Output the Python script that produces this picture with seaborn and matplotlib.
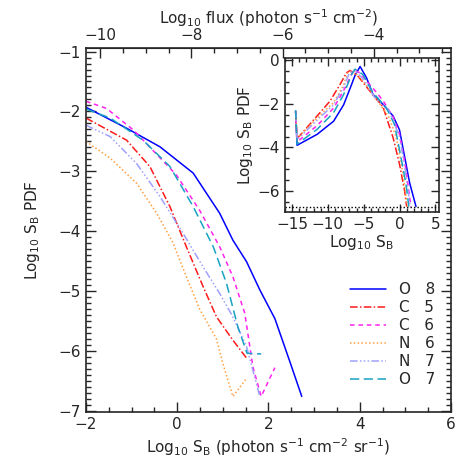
import matplotlib
matplotlib.use('Agg')
import matplotlib.pyplot as plt
import seaborn as sns
from matplotlib.ticker import MultipleLocator, FixedLocator

sns.set_style('ticks')
plt.rcParams['font.family'] = ['DejaVu Sans']
plt.rcParams['mathtext.fontset'] = 'dejavusans'

# ions (legend order)
ions = ['O   8', 'C   5', 'C   6', 'N   6', 'N   7', 'O   7']
colors = ['#0000ff', '#ff1a1a', '#ff22ee', '#ffa040', '#a0a0ff', '#18a2c4']
styles = ['-', (0, (5, 1.5, 1, 1.5)), (0, (3, 2.5)), (0, (1, 1.5)),
          (0, (5, 1.5, 1, 1.5, 1, 1.5, 1, 1.5)), (0, (6, 3))]

# main panel: log10 SB vs log10 PDF
sb_o8 = [-2.0, -1.11, -0.38, 0.35, 0.93, 1.22, 1.52, 1.81, 2.14, 2.46, 2.73]
pdf_o8 = [-1.93, -2.28, -2.59, -3.03, -3.70, -4.15, -4.51, -4.98, -5.46, -6.16, -6.76]
sb_c5 = [-2.0, -1.11, -0.60, -0.16, 0.20, 0.57, 0.86, 1.22, 1.52]
pdf_c5 = [-2.11, -2.48, -2.92, -3.59, -4.26, -4.93, -5.43, -5.82, -6.12]
sb_c6 = [-2.0, -1.55, -0.96, -0.02, 0.49, 0.93, 1.22, 1.48, 1.66, 1.84, 2.14]
pdf_c6 = [-1.83, -1.95, -2.31, -3.06, -3.65, -4.26, -4.76, -5.37, -6.27, -6.76, -6.28]
sb_n6 = [-2.0, -1.47, -0.89, -0.45, -0.09, 0.20, 0.49, 0.86, 1.0, 1.22, 1.52]
pdf_n6 = [-2.50, -2.78, -3.20, -3.70, -4.20, -4.76, -5.30, -5.80, -6.21, -6.76, -6.46]
sb_n7 = [-2.0, -1.47, -0.89, -0.38, 0.13, 0.57, 0.93, 1.22, 1.52, 1.81]
pdf_n7 = [-2.23, -2.42, -2.87, -3.42, -4.04, -4.60, -5.04, -5.43, -5.93, -6.76]
sb_o7 = [-2.0, -1.47, -0.75, -0.16, 0.35, 0.79, 1.08, 1.33, 1.53, 1.84]
pdf_o7 = [-1.96, -2.11, -2.48, -2.92, -3.59, -4.26, -4.87, -5.60, -6.04, -6.05]

# inset: full range
in_sb_o8 = [-14.5, -14.3, -11.5, -9.2, -7.8, -6.9, -6.2, -5.5, -4.6, -3.7, -2.3, -0.9, 0.0, 0.7, 1.4, 2.3]
in_pdf_o8 = [-2.35, -3.9, -3.4, -2.8, -2.05, -1.3, -0.7, -0.3, -0.82, -1.58, -2.03, -2.56, -3.2, -4.4, -5.6, -6.7]
in_sb_c5 = [-14.5, -14.3, -11.5, -9.7, -8.3, -7.4, -6.9, -5.8, -3.7, -2.3, -0.9, 0.0, 0.7, 1.0]
in_pdf_c5 = [-2.35, -3.6, -2.56, -1.88, -1.12, -0.59, -0.48, -0.74, -1.6, -2.15, -3.55, -4.76, -5.97, -6.7]
in_sb_c6 = [-14.5, -14.3, -11.5, -9.2, -7.8, -6.9, -6.4, -5.5, -4.5, -3.3, -2.3, -0.9, 0.0, 0.8, 1.6]
in_pdf_c6 = [-2.35, -3.75, -3.0, -2.2, -1.4, -0.8, -0.45, -0.6, -1.0, -1.45, -1.86, -2.6, -3.4, -4.8, -6.7]
in_sb_n6 = [-14.5, -14.3, -11.5, -9.2, -7.8, -7.2, -6.5, -5.0, -3.0, -1.5, -0.5, 0.3, 0.8, 1.1]
in_pdf_n6 = [-2.35, -3.6, -2.65, -1.95, -1.15, -0.55, -0.5, -1.0, -1.9, -2.6, -3.5, -4.8, -6.0, -6.7]
in_sb_n7 = [-14.5, -14.3, -11.5, -9.2, -7.8, -7.0, -6.3, -5.0, -3.5, -1.5, 0.0, 0.7, 1.2, 1.5]
in_pdf_n7 = [-2.3, -3.65, -2.75, -2.05, -1.25, -0.6, -0.45, -0.9, -1.7, -2.3, -3.5, -4.8, -6.0, -6.7]
in_sb_o7 = [-14.5, -14.3, -11.5, -9.2, -7.8, -6.7, -6.2, -5.1, -3.7, -1.85, -0.7, 0.2, 0.9, 1.3]
in_pdf_o7 = [-2.3, -3.85, -3.17, -2.41, -1.58, -0.67, -0.42, -0.67, -1.5, -2.18, -2.94, -4.45, -5.67, -6.7]
in_floor = -6.72

flux_offset = 8.31  # log10 flux = log10 SB - offset
flux_ticks = [-10, -8, -6, -4]

main_x = [sb_o8, sb_c5, sb_c6, sb_n6, sb_n7, sb_o7]
main_y = [pdf_o8, pdf_c5, pdf_c6, pdf_n6, pdf_n7, pdf_o7]
in_x = [in_sb_o8, in_sb_c5, in_sb_c6, in_sb_n6, in_sb_n7, in_sb_o7]
in_y = [in_pdf_o8, in_pdf_c5, in_pdf_c6, in_pdf_n6, in_pdf_n7, in_pdf_o7]

fs = 11
fig = plt.figure(figsize=(4.74, 4.74), dpi=100)
ax = fig.add_axes([0.1814, 0.1308, 0.770, 0.768])

for xs, ys, c, ls, lab in zip(main_x, main_y, colors, styles, ions):
    sns.lineplot(x=xs, y=ys, ax=ax, color=c, linestyle=ls, linewidth=1.1,
                 sort=False, estimator=None, label=lab)

ax.set_xlim(-2, 6)
ax.set_ylim(-7.02, -0.94)
ax.xaxis.set_major_locator(MultipleLocator(2))
ax.xaxis.set_minor_locator(MultipleLocator(0.5))
ax.yaxis.set_major_locator(MultipleLocator(1))
ax.yaxis.set_minor_locator(MultipleLocator(0.1))
ax.tick_params(which='both', direction='in', top=False, right=True, labelsize=fs, width=1)
ax.tick_params(which='major', length=7)
ax.tick_params(which='minor', length=3.5)
ax.set_xlabel(r'Log$_{10}$ S$_{\rm B}$ (photon s$^{-1}$ cm$^{-2}$ sr$^{-1}$)', fontsize=fs, labelpad=3)
ax.set_ylabel(r'Log$_{10}$ S$_{\rm B}$ PDF', fontsize=fs, labelpad=12)
for s in ax.spines.values():
    s.set_linewidth(1.2)

top = ax.secondary_xaxis('top', functions=(lambda v: v - flux_offset, lambda v: v + flux_offset))
top.xaxis.set_major_locator(FixedLocator(flux_ticks))
top.xaxis.set_minor_locator(FixedLocator([v / 2 for v in range(-21, -4)]))
top.tick_params(which='both', direction='in', labelsize=fs, width=1)
top.tick_params(which='major', length=7)
top.tick_params(which='minor', length=3.5)
top.set_xlabel(r'Log$_{10}$ flux (photon s$^{-1}$ cm$^{-2}$)', fontsize=fs, labelpad=3)

leg = ax.legend(loc='upper left', bbox_to_anchor=(0.738, 0.405), bbox_transform=fig.transFigure,
                frameon=False, fontsize=fs, handlelength=2.4, handletextpad=0.8,
                labelspacing=0.2, borderpad=0, borderaxespad=0)

# inset
axi = fig.add_axes([0.601, 0.5527, 0.325, 0.325])
for xs, ys, c, ls in zip(in_x, in_y, colors, styles):
    sns.lineplot(x=xs, y=ys, ax=axi, color=c, linestyle=ls, linewidth=1.1,
                 sort=False, estimator=None)
axi.axhline(in_floor, color='black', linestyle=(0, (1, 1.5)), linewidth=1)
axi.set_xlim(-16, 5.5)
axi.set_ylim(-6.95, 0.09)
axi.xaxis.set_major_locator(MultipleLocator(5))
axi.xaxis.set_minor_locator(MultipleLocator(1))
axi.yaxis.set_major_locator(MultipleLocator(2))
axi.yaxis.set_minor_locator(MultipleLocator(0.5))
axi.tick_params(which='both', direction='in', top=True, right=True, labelsize=fs, width=1)
axi.tick_params(which='major', length=6)
axi.tick_params(which='minor', length=3)
axi.set_xlabel(r'Log$_{10}$ S$_{\rm B}$', fontsize=fs, labelpad=1)
axi.set_ylabel(r'Log$_{10}$ S$_{\rm B}$ PDF', fontsize=fs, labelpad=2)
for s in axi.spines.values():
    s.set_linewidth(1.2)

fig.savefig('out.png', dpi=100)
